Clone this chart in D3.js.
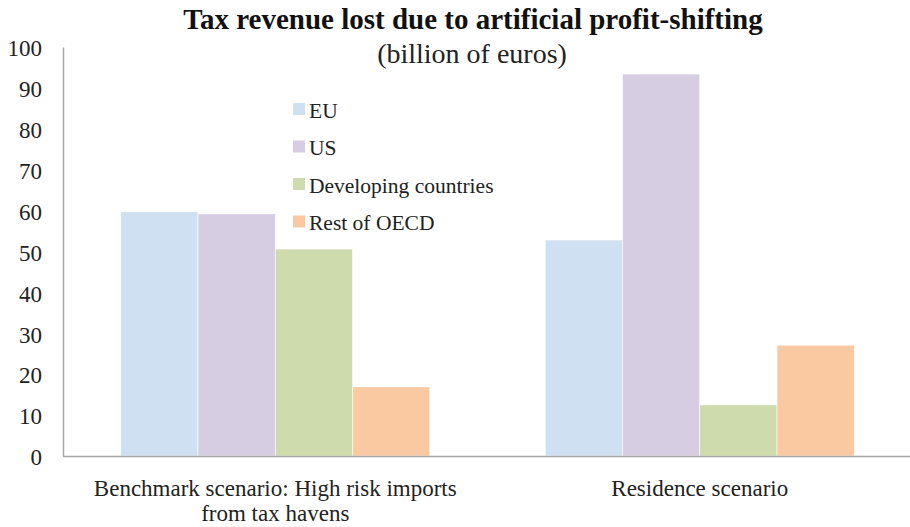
<!DOCTYPE html>
<html><head><meta charset="utf-8">
<script src="https://cdn.jsdelivr.net/npm/d3@7"></script>
<style>body{margin:0;background:#fff}svg{display:block}</style>
</head><body><svg id="c" width="910" height="527"></svg>
<script>
const scenarios = ["Benchmark scenario: High risk imports|from tax havens", "Residence scenario"];
const regions = ["EU", "US", "Developing countries", "Rest of OECD"];
const EU = [59.7, 52.8];
const US = [59.2, 93.4];
const Developing = [50.6, 12.5];
const RestOECD = [16.9, 27.1];
const yTicks = [0,10,20,30,40,50,60,70,80,90,100];
const colors = ["#cfe0f2", "#d6cde2", "#cddbad", "#fbc9a1"];
const seriesVals = [EU, US, Developing, RestOECD];
const FONT = "'Liberation Serif', 'Times New Roman', Times, serif";

const svg = d3.select("#c");
const x0 = d3.scaleBand().domain(scenarios).range([63, 912]).paddingInner(0.272).paddingOuter(0.136);
const x1 = d3.scaleBand().domain(regions).range([0, x0.bandwidth()]);
const y = d3.scaleLinear().domain([0, 100]).range([456, 47]);
const color = d3.scaleOrdinal().domain(regions).range(colors);

const g = svg.append("g");
scenarios.forEach((s, i) => {
  regions.forEach((r, j) => {
    g.append("rect")
      .attr("x", x0(s) + x1(r))
      .attr("y", y(seriesVals[j][i]))
      .attr("width", x1.bandwidth())
      .attr("height", y(0) - y(seriesVals[j][i]))
      .attr("fill", color(r))
      .attr("stroke", "#fff").attr("stroke-width", 0.6);
  });
});

const yAxis = d3.axisLeft(y).tickValues(yTicks).tickSize(0).tickPadding(21);
const ya = svg.append("g").attr("transform", "translate(63,0)").call(yAxis);
ya.attr("font-family", null);
ya.select(".domain").attr("stroke", "#a6a6a6").attr("stroke-width", 1.5);
ya.selectAll("text").style("font-family", FONT).style("font-size", "23px").attr("fill", "#222").attr("dy", "0.38em");

const xAxis = d3.axisBottom(x0).tickSize(0).tickFormat("");
const xa = svg.append("g").attr("transform", "translate(0,456)").call(xAxis);
xa.select(".domain").attr("stroke", "#a6a6a6").attr("stroke-width", 1.5).attr("d", "M63,0.5H910");
scenarios.forEach(s => {
  const lines = s.split("|");
  const cx = x0(s) + x0.bandwidth()/2;
  const t = svg.append("text").attr("text-anchor", "middle").style("font-family", FONT).style("font-size", "23px")
    .attr("fill", "#222").attr("x", cx).attr("y", 496);
  lines.forEach((l, k) => t.append("tspan").attr("x", cx).attr("dy", k ? 25 : 0).text(l));
});

svg.append("text").attr("x", 473).attr("y", 29).attr("text-anchor", "middle").attr("fill", "#111")
  .style("font-family", FONT).style("font-size", "29px").style("font-weight", "bold").text("Tax revenue lost due to artificial profit-shifting");
svg.append("text").attr("x", 472).attr("y", 63).attr("text-anchor", "middle").attr("fill", "#222")
  .style("font-family", FONT).style("font-size", "28px").text("(billion of euros)");

const lg = svg.append("g");
regions.forEach((r, i) => {
  const yy = 109 + i * 37.5;
  lg.append("rect").attr("x", 293).attr("y", yy - 6).attr("width", 12).attr("height", 12).attr("fill", color(r));
  lg.append("text").attr("x", 309).attr("y", yy + 1).attr("dy", "0.35em").attr("fill", "#222")
    .style("font-family", FONT).style("font-size", "21.5px").text(r);
});
</script></body></html>
